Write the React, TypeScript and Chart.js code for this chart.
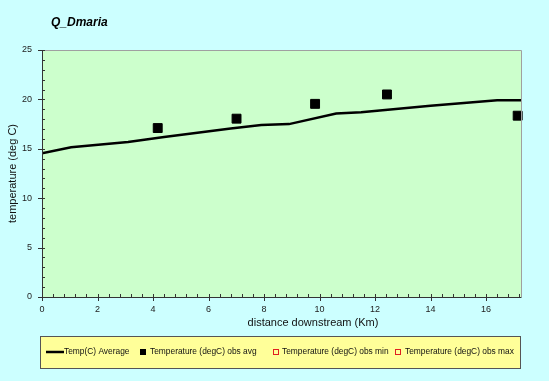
import React, { useEffect, useRef } from "react";
import { Chart, registerables } from "chart.js";

Chart.register(...registerables);

const chartTitle = "Q_Dmaria";
const xTitle = "distance downstream (Km)";
const yTitle = "temperature (deg C)";

const avgLabel = "Temp(C) Average";
const obsAvgLabel = "Temperature (degC) obs avg";
const obsMinLabel = "Temperature (degC) obs min";
const obsMaxLabel = "Temperature (degC) obs max";

const avgDistance = [0, 1.05, 3.1, 4.4, 6.8, 7.9, 8.9, 10.6, 11.5, 14.0, 16.4, 17.26];
const avgTemp = [14.55, 15.15, 15.7, 16.2, 17.05, 17.4, 17.5, 18.57, 18.7, 19.35, 19.92, 19.92];

const obsDistance = [4.17, 7.01, 9.84, 12.43, 17.14];
const obsAvgTemp = [17.1, 18.05, 19.55, 20.5, 18.35];

const xTickValues = [0, 2, 4, 6, 8, 10, 12, 14, 16];
const yTickValues = [0, 5, 10, 15, 20, 25];

const xMin = 0;
const xMax = 17.26;
const yMin = 0;
const yMax = 25;

const BG = "#ccffff";
const PLOT_BG = "#ccffcc";
const LEGEND_BG = "#ffff99";
const FONT = "Arial, 'Liberation Sans', sans-serif";

const decorPlugin = {
  id: "decor",
  beforeDraw(chart: any) {
    const { ctx, chartArea: a, width, height } = chart;
    ctx.save();
    ctx.fillStyle = BG;
    ctx.fillRect(0, 0, width, height);
    ctx.fillStyle = PLOT_BG;
    ctx.fillRect(a.left, a.top, a.right - a.left, a.bottom - a.top);
    ctx.restore();
  },
  afterDraw(chart: any) {
    const { ctx, chartArea: a } = chart;
    const xs = chart.scales.x;
    const ys = chart.scales.y;
    ctx.save();
    // plot border top/right
    ctx.strokeStyle = "#a0a0a0";
    ctx.lineWidth = 1;
    ctx.beginPath();
    ctx.moveTo(a.left, a.top + 0.5);
    ctx.lineTo(a.right + 0.5, a.top + 0.5);
    ctx.lineTo(a.right + 0.5, a.bottom);
    ctx.stroke();
    // axes
    ctx.strokeStyle = "#333333";
    ctx.beginPath();
    ctx.moveTo(a.left + 0.5, a.top);
    ctx.lineTo(a.left + 0.5, a.bottom + 0.5);
    ctx.lineTo(a.right + 0.5, a.bottom + 0.5);
    ctx.stroke();
    // y ticks
    ctx.beginPath();
    for (let v = yMin; v <= yMax + 1e-6; v += 1) {
      const py = Math.round(ys.getPixelForValue(v)) + 0.5;
      const major = Math.abs(v % 5) < 1e-6;
      if (major) {
        ctx.moveTo(a.left - 4, py);
        ctx.lineTo(a.left + 3, py);
      } else {
        ctx.moveTo(a.left, py);
        ctx.lineTo(a.left + 3, py);
      }
    }
    // x ticks
    for (let i = 0; i * 0.4 <= xMax + 1e-6; i++) {
      const v = i * 0.4;
      const px = Math.round(xs.getPixelForValue(v)) + 0.5;
      const major = i % 5 === 0;
      if (major) {
        ctx.moveTo(px, a.bottom - 3);
        ctx.lineTo(px, a.bottom + 4);
      } else {
        ctx.moveTo(px, a.bottom - 3);
        ctx.lineTo(px, a.bottom);
      }
    }
    ctx.stroke();

    // title
    ctx.fillStyle = "#000000";
    ctx.font = `bold italic 12px ${FONT}`;
    ctx.textBaseline = "middle";
    ctx.textAlign = "left";
    ctx.fillText(chartTitle, 51, 23);

    // axis titles
    ctx.font = `11px ${FONT}`;
    ctx.fillStyle = "#111111";
    ctx.textAlign = "center";
    ctx.fillText(xTitle, 313, 323);
    ctx.save();
    ctx.translate(13, (a.top + a.bottom) / 2);
    ctx.rotate(-Math.PI / 2);
    ctx.fillText(yTitle, 0, 0);
    ctx.restore();

    // legend box
    const lx = 40.5, ly = 336.5, lw = 480, lh = 32;
    ctx.fillStyle = LEGEND_BG;
    ctx.fillRect(lx, ly, lw, lh);
    ctx.strokeStyle = "#555555";
    ctx.lineWidth = 1;
    ctx.strokeRect(lx, ly, lw, lh);
    const cy = 352;
    ctx.font = `8.4px ${FONT}`;
    ctx.textAlign = "left";
    ctx.fillStyle = "#111111";
    // item 1: line
    ctx.strokeStyle = "#000000";
    ctx.lineWidth = 2.5;
    ctx.beginPath();
    ctx.moveTo(46, cy);
    ctx.lineTo(64, cy);
    ctx.stroke();
    ctx.fillText(avgLabel, 64, cy);
    // item 2: filled square
    ctx.fillStyle = "#000000";
    ctx.fillRect(140, cy - 3, 6, 6);
    ctx.fillStyle = "#111111";
    ctx.fillText(obsAvgLabel, 150, cy);
    // item 3,4: hollow red squares
    ctx.strokeStyle = "#e02020";
    ctx.lineWidth = 1;
    ctx.strokeRect(273.5, cy - 2.5, 5, 5);
    ctx.fillText(obsMinLabel, 282, cy);
    ctx.strokeRect(395.5, cy - 2.5, 5, 5);
    ctx.fillText(obsMaxLabel, 405, cy);
    ctx.restore();
  },
};

export default function App() {
  const ref = useRef<HTMLCanvasElement>(null);
  useEffect(() => {
    document.body.style.margin = "0";
    const canvas = ref.current!;
    const chart = new Chart(canvas, {
      type: "scatter",
      data: {
        datasets: [
          {
            label: avgLabel,
            data: avgDistance.map((x, i) => ({ x, y: avgTemp[i] })),
            showLine: true,
            borderColor: "#000000",
            borderWidth: 2.5,
            pointRadius: 0,
            tension: 0,
          },
          {
            label: obsAvgLabel,
            data: obsDistance.map((x, i) => ({ x, y: obsAvgTemp[i] })),
            showLine: false,
            pointStyle: "rect",
            pointRadius: 6.3,
            backgroundColor: "#000000",
            borderColor: "#000000",
            borderWidth: 1,
            clip: false,
          } as any,
          {
            label: obsMinLabel,
            data: [],
            pointStyle: "rect",
            borderColor: "#e02020",
            backgroundColor: "rgba(0,0,0,0)",
          },
          {
            label: obsMaxLabel,
            data: [],
            pointStyle: "rect",
            borderColor: "#e02020",
            backgroundColor: "rgba(0,0,0,0)",
          },
        ],
      },
      options: {
        animation: false,
        responsive: false,
        maintainAspectRatio: false,
        layout: { padding: { left: 0, top: 50, right: 28, bottom: 48 } },
        plugins: {
          legend: { display: false },
          tooltip: { enabled: false },
          title: { display: false },
        },
        scales: {
          x: {
            type: "linear",
            min: xMin,
            max: xMax,
            grid: { display: false, drawTicks: false },
            border: { display: false },
            ticks: {
              autoSkip: false,
              padding: 7,
              color: "#222222",
              font: { family: FONT, size: 9 },
              maxRotation: 0,
            },
            afterBuildTicks: (s: any) => {
              s.ticks = xTickValues.map((value) => ({ value }));
            },
            afterFit: (s: any) => {
              s.height = 36;
            },
          },
          y: {
            type: "linear",
            min: yMin,
            max: yMax,
            grid: { display: false, drawTicks: false },
            border: { display: false },
            ticks: {
              autoSkip: false,
              padding: 10,
              color: "#222222",
              font: { family: FONT, size: 9 },
            },
            afterBuildTicks: (s: any) => {
              s.ticks = yTickValues.map((value) => ({ value }));
            },
            afterFit: (s: any) => {
              s.width = 42;
            },
          },
        },
      },
      plugins: [decorPlugin],
    });
    return () => chart.destroy();
  }, []);
  return (
    <canvas
      ref={ref}
      width={549}
      height={381}
      style={{ display: "block", width: 549, height: 381 }}
    />
  );
}
